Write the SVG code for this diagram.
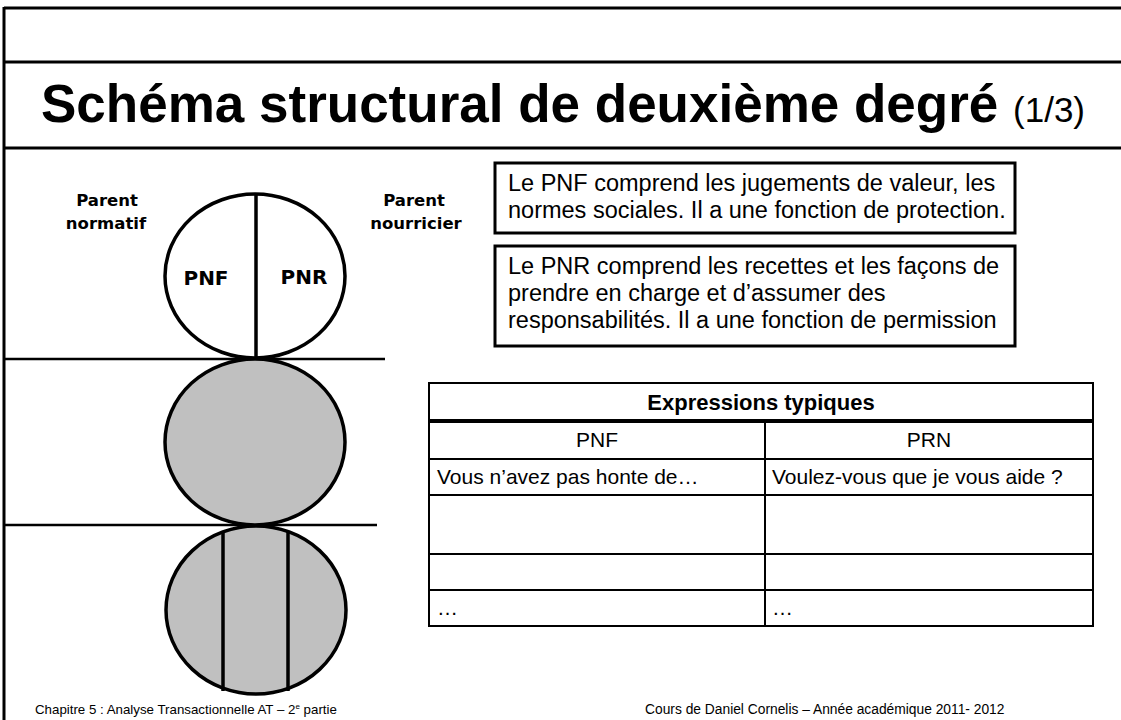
<svg xmlns="http://www.w3.org/2000/svg" width="1121" height="720" viewBox="0 0 1121 720">
<style>
.frame{stroke:#000;stroke-width:3;fill:none}
.thin{stroke:#000;stroke-width:2.5;fill:none}
.circ{stroke:#000;stroke-width:3.5}
.lbl{font-family:"DejaVu Sans",Verdana,sans-serif;font-weight:bold;fill:#000}
.txt{font-family:"Liberation Sans",Arial,sans-serif;fill:#000}
.box{fill:#fff;stroke:#000;stroke-width:3}
.bt{font-family:"Liberation Sans",Arial,sans-serif;fill:#000;font-size:23.5px}
.tbl{stroke:#000;stroke-width:2;fill:none}
.tt{font-family:"Liberation Sans",Arial,sans-serif;fill:#000;font-size:21px}
</style>
<rect width="1121" height="720" fill="#fff"/>
<g id="frame">
<line class="frame" x1="4" y1="8" x2="1121" y2="8"/>
<line class="frame" x1="4" y1="62" x2="1121" y2="62"/>
<line class="frame" x1="4" y1="148" x2="1121" y2="148"/>
<line class="frame" x1="4" y1="7" x2="4" y2="720"/>
</g>
<g id="title">
<text class="txt" x="41" y="122" font-size="53" font-weight="bold">Schéma structural de deuxième degré <tspan font-weight="normal" font-size="35">(1/3)</tspan></text>
</g>
<g id="connectors">
<line class="thin" x1="4" y1="359" x2="385" y2="359"/>
<line class="thin" x1="4" y1="525" x2="377" y2="525"/>
</g>
<g id="parent-circle">
<ellipse class="circ" cx="255" cy="276" rx="90" ry="82" fill="#fff"/>
<line class="circ" x1="256" y1="194" x2="256" y2="358"/>
<text class="lbl" x="206" y="285" font-size="20" text-anchor="middle">PNF</text>
<text class="lbl" x="304" y="284" font-size="20" text-anchor="middle">PNR</text>
</g>
<g id="label-normatif">
<text class="lbl" x="107" y="206" font-size="16.5" text-anchor="middle">Parent</text>
<text class="lbl" x="106" y="229" font-size="16.5" text-anchor="middle">normatif</text>
</g>
<g id="label-nourricier">
<text class="lbl" x="414" y="206" font-size="16.5" text-anchor="middle">Parent</text>
<text class="lbl" x="416" y="229" font-size="16.5" text-anchor="middle">nourricier</text>
</g>
<g id="adult-circle">
<ellipse class="circ" cx="255" cy="442" rx="90" ry="83" fill="#c0c0c0"/>
</g>
<g id="child-circle">
<ellipse class="circ" cx="256" cy="610" rx="90" ry="84" fill="#c0c0c0"/>
<line class="circ" x1="223" y1="532" x2="223" y2="691"/>
<line class="circ" x1="288" y1="532" x2="288" y2="691"/>
</g>
<g id="box-pnf">
<rect class="box" x="495" y="163" width="520" height="70"/>
<text class="bt" x="508" y="191">Le PNF comprend les jugements de valeur, les</text>
<text class="bt" x="508" y="218">normes sociales. Il a une fonction de protection.</text>
</g>
<g id="box-pnr">
<rect class="box" x="495" y="246" width="520" height="100"/>
<text class="bt" x="508" y="274">Le PNR comprend les recettes et les façons de</text>
<text class="bt" x="508" y="301">prendre en charge et d’assumer des</text>
<text class="bt" x="508" y="328">responsabilités. Il a une fonction de permission</text>
</g>
<g id="table">
<rect class="tbl" x="429" y="383" width="664" height="243"/>
<line stroke="#000" stroke-width="4" x1="429" y1="421" x2="1093" y2="421"/>
<line class="tbl" x1="429" y1="459" x2="1093" y2="459"/>
<line class="tbl" x1="429" y1="495" x2="1093" y2="495"/>
<line class="tbl" x1="429" y1="554" x2="1093" y2="554"/>
<line class="tbl" x1="429" y1="590" x2="1093" y2="590"/>
<line class="tbl" x1="765" y1="421" x2="765" y2="626"/>
<text class="txt" x="761" y="410" font-size="22" font-weight="bold" text-anchor="middle">Expressions typiques</text>
<text class="tt" x="597" y="447" text-anchor="middle">PNF</text>
<text class="tt" x="929" y="447" text-anchor="middle">PRN</text>
<text class="tt" x="437" y="484">Vous n’avez pas honte de…</text>
<text class="tt" x="772" y="484">Voulez-vous que je vous aide ?</text>
<text class="tt" x="437" y="615">…</text>
<text class="tt" x="772" y="615">…</text>
</g>
<g id="footer">
<text class="txt" x="35" y="714" font-size="13.3">Chapitre 5 : Analyse Transactionnelle AT – 2<tspan font-size="8" dy="-5">e</tspan><tspan dy="5"> partie</tspan></text>
<text class="txt" x="645" y="714" font-size="13.8">Cours de Daniel Cornelis – Année académique 2011- 2012</text>
</g>
</svg>
